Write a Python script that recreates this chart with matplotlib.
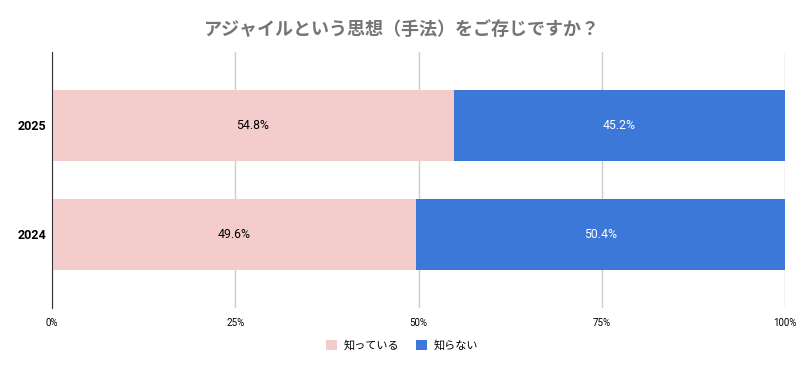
import matplotlib.pyplot as plt
from matplotlib.patches import Patch

plt.rcParams['font.family'] = ['Noto Sans CJK JP', 'DejaVu Sans']

years = ['2024', '2025']
know = [49.6, 54.8]
dont_know = [50.4, 45.2]
series_names = ['知っている', '知らない']
xticks = [0, 25, 50, 75, 100]

pink = '#f4cccc'
blue = '#3c78d8'

fig = plt.figure(figsize=(8.04, 3.71), dpi=100)
ax = fig.add_axes([0.0647, 0.170, 0.9117, 0.690])

y = range(len(years))
ax.barh(y, know, height=0.65, color=pink, zorder=2)
ax.barh(y, dont_know, left=know, height=0.65, color=blue, zorder=2)

for i in y:
    ax.text(know[i] / 2, i, f'{know[i]}%', ha='center', va='center',
            fontsize=8.8, color='#000000', family='Roboto')
    ax.text(know[i] + dont_know[i] / 2, i, f'{dont_know[i]}%', ha='center',
            va='center', fontsize=8.8, color='white', family='Roboto')

ax.set_xlim(0, 100)
ax.set_ylim(-0.674, 1.674)
ax.set_xticks(xticks)
ax.set_xticklabels([f'{t}%' for t in xticks], fontsize=7, family='Roboto')
ax.set_yticks(list(y))
ax.set_yticklabels(years, fontsize=9, fontweight='bold', family='Roboto')
ax.tick_params(axis='both', length=0, pad=7)
ax.tick_params(axis='y', pad=4)
ax.grid(axis='x', color='#cccccc', linewidth=1, zorder=0)
for s in ['top', 'right', 'bottom']:
    ax.spines[s].set_visible(False)
ax.spines['left'].set_color('#333333')
ax.spines['left'].set_zorder(3)

fig.text(0.5, 0.92, 'アジャイルという思想（手法）をご存じですか？', ha='center', va='center',
         fontsize=13, fontweight='bold', color='#757575')

handles = [Patch(facecolor=pink, label=series_names[0]),
           Patch(facecolor=blue, label=series_names[1])]
fig.legend(handles=handles, loc='center', bbox_to_anchor=(0.5, 0.07), ncol=2,
           frameon=False, fontsize=8, handlelength=1.0, handleheight=1.0,
           columnspacing=1.5, handletextpad=0.6)

fig.savefig('out.png', dpi=100)
